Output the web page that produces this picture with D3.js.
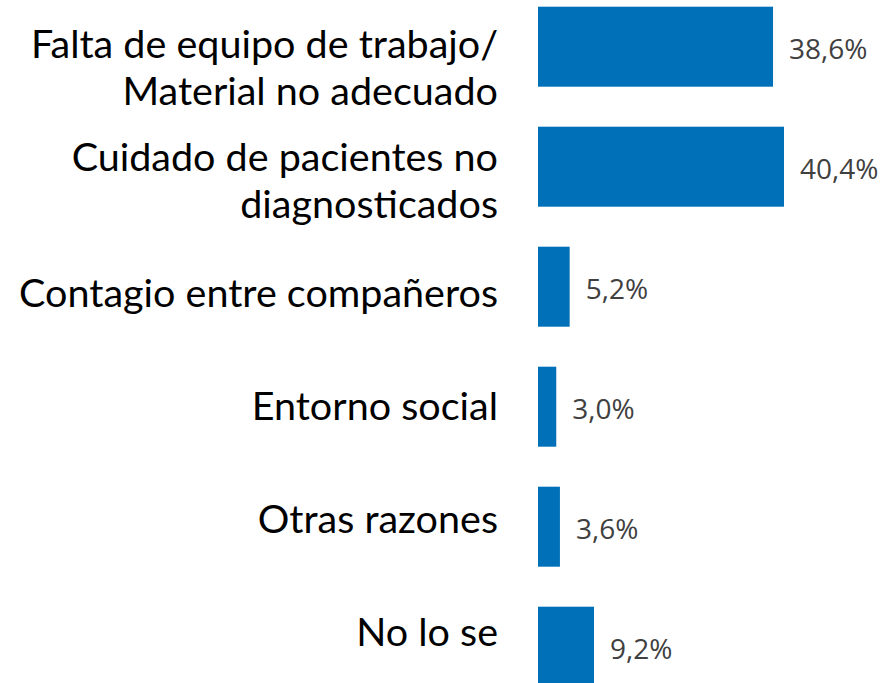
<!DOCTYPE html>
<html>
<head>
<meta charset="utf-8">
<script src="https://cdn.jsdelivr.net/npm/d3@7"></script>
<style>
  body { margin: 0; background: #fff; }
  svg { display: block; }
</style>
</head>
<body>
<script>
// categories, each label split into its lines
let categories = [
    ["Falta de equipo de trabajo/", "Material no adecuado"],
    ["Cuidado de pacientes no", "diagnosticados"],
    ["Contagio entre compañeros"],
    ["Entorno social"],
    ["Otras razones"],
    ["No lo se"]
]
let values = [38.6, 40.4, 5.2, 3.0, 3.6, 9.2]
let valueLabels = ["38,6%", "40,4%", "5,2%", "3,0%", "3,6%", "9,2%"]

let w = 882
let h = 683
let svg = d3.select("body")
    .append("svg")
    .attr("width", w)
    .attr("height", h)

let ids = d3.range(values.length)

let xScale = d3.scaleLinear()
    .domain([0, 40.4])
    .range([538, 784])

// step 120, bar 80 tall, first bar top at ~6.7
let yScale = d3.scaleBand()
    .domain(ids)
    .range([-13.3, 706.7])
    .paddingInner(1 / 3)
    .paddingOuter(1 / 6)

// labels sit in their own text box, slightly tighter than the bars
let labelScale = d3.scalePoint()
    .domain(ids)
    .range([68, 632])

svg.selectAll("rect")
    .data(ids)
    .enter()
    .append("rect")
    .attr("x", xScale(0))
    .attr("y", i => yScale(i))
    .attr("width", i => xScale(values[i]) - xScale(0))
    .attr("height", yScale.bandwidth())
    .attr("fill", "#0070b9")

svg.selectAll(".val")
    .data(ids)
    .enter()
    .append("text")
    .attr("class", "val")
    .attr("x", i => xScale(values[i]) + 16)
    .attr("y", i => yScale(i) + yScale.bandwidth() / 2 + 2)
    .attr("dy", "0.35em")
    .attr("font-family", "'Open Sans', sans-serif")
    .attr("font-size", 28)
    .attr("fill", "#404040")
    .text(i => valueLabels[i])

let lineH = 47
let cats = svg.selectAll(".cat")
    .data(ids)
    .enter()
    .append("text")
    .attr("class", "cat")
    .attr("text-anchor", "end")
    .attr("font-family", "Lato, sans-serif")
    .attr("font-size", 39.5)
    .attr("fill", "#000")

cats.selectAll("tspan")
    .data(i => categories[i].map((t, k) => ({ t, k, n: categories[i].length, i })))
    .enter()
    .append("tspan")
    .attr("x", 498)
    .attr("y", d => labelScale(d.i) + (d.k - (d.n - 1) / 2) * lineH)
    .attr("dy", "0.35em")
    .text(d => d.t)
</script>
</body>
</html>
